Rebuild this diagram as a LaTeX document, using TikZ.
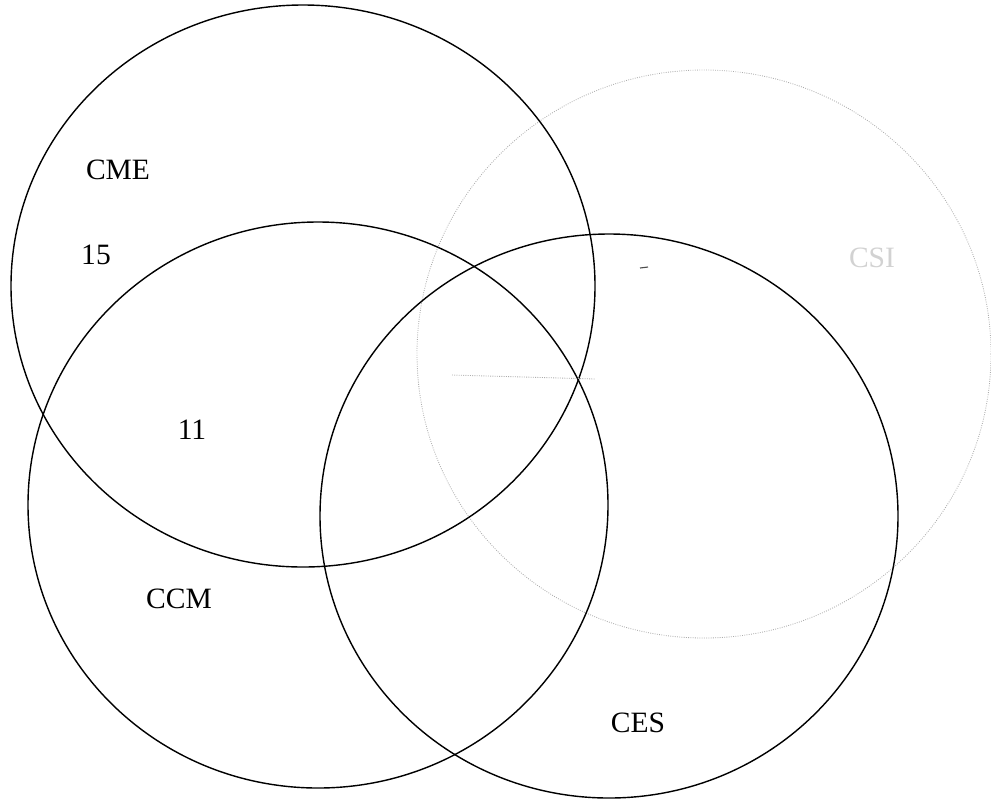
\documentclass[tikz,border=0pt]{standalone}
\usepackage{fontspec}
\setmainfont{Liberation Serif}
\usetikzlibrary{positioning}

\begin{document}
\begin{tikzpicture}[x=0.025cm,y=-0.025cm,
  ring/.style={black, line width=1pt},
  faintring/.style={gray!65, line width=0.6pt, densely dotted},
  setlabel/.style={font=\fontsize{21}{25}\selectfont, inner sep=0pt}]
\useasboundingbox (0,0) rectangle (991,798);
% the four sets
\draw[faintring] (704,354) ellipse [x radius=287, y radius=284];
\draw[ring] (303,286) ellipse [x radius=292, y radius=281];
\draw[ring] (318,505) ellipse [x radius=290, y radius=283];
\draw[ring] (609,516) ellipse [x radius=289, y radius=282];
% faint marks of the scan
\coordinate (fa) at (452,375);
\coordinate (fb) at (595,379);
\draw[faintring] (fa) -- (fb);
\coordinate (da) at (640,268);
\coordinate (db) at (648,267);
\draw[black!70, line width=0.8pt] (da) -- (db);
% labels
\node[setlabel] (cme) at (118,170) {CME};
\node[setlabel] (n15) at (96,255) {15};
\node[setlabel] (n11) at (192,430) {11};
\node[setlabel] (ccm) at (179,599) {CCM};
\node[setlabel] (ces) at (638,723) {CES};
\node[setlabel, text=gray!35] (csi) at (872,258) {CSI};
\end{tikzpicture}
\end{document}
